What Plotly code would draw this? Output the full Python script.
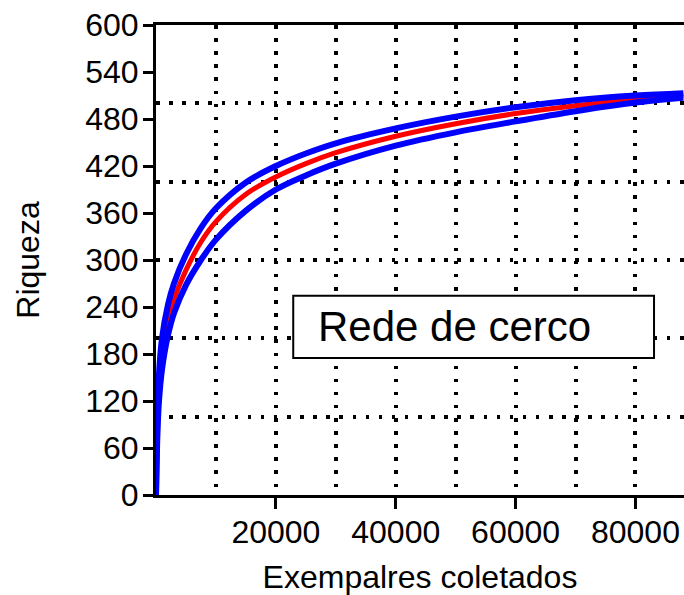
import plotly.graph_objects as go

# Data
exemplares = [0, 250, 500, 1000, 2000, 3000, 5000, 7500, 10000, 15000, 20000,
              25000, 30000, 40000, 50000, 60000, 70000, 80000, 88000]
riqueza_media = [0, 95, 140, 185, 225, 250, 287, 323, 349, 384, 406,
                 423, 437, 458, 474, 487, 497, 505, 510]
riqueza_sup = [0, 105, 155, 200, 243, 270, 307, 341, 366, 399, 420,
               436, 449, 468, 483, 495, 504, 510, 513]
riqueza_inf = [0, 80, 120, 160, 204, 232, 268, 300, 326, 363, 390,
               408, 423, 446, 463, 477, 490, 501, 507]

x_ticks = [20000, 40000, 60000, 80000]
x_tick_labels = ["20000", "40000", "60000", "80000"]
y_ticks = list(range(0, 601, 60))
x_grid = [10000, 20000, 30000, 40000, 50000, 60000, 70000, 80000]
y_grid = [100, 200, 300, 400, 500, 600]

FONT = "Liberation Sans, Arial, sans-serif"

fig = go.Figure()
fig.add_trace(go.Scatter(x=exemplares, y=riqueza_media, mode="lines",
                         line=dict(color="#ff0000", width=5, shape="spline"),
                         showlegend=False, hoverinfo="skip"))
fig.add_trace(go.Scatter(x=exemplares, y=riqueza_sup, mode="lines",
                         line=dict(color="#0000ff", width=6, shape="spline"),
                         showlegend=False, hoverinfo="skip"))
fig.add_trace(go.Scatter(x=exemplares, y=riqueza_inf, mode="lines",
                         line=dict(color="#0000ff", width=6, shape="spline"),
                         showlegend=False, hoverinfo="skip"))

fig.update_layout(
    width=684, height=595,
    margin=dict(l=156, r=0, t=25, b=100, pad=0),
    paper_bgcolor="white", plot_bgcolor="white",
    font=dict(family=FONT, color="black", size=32),
    xaxis=dict(
        range=[0, 88100], tickmode="array", tickvals=x_ticks, ticktext=x_tick_labels,
        ticks="outside", ticklen=11, tickwidth=3, tickcolor="black",
        showline=True, linewidth=3, linecolor="black", mirror=True,
        showgrid=False, zeroline=False, ticklabelstandoff=-4,
        tickfont=dict(size=32, family=FONT),
        title=dict(text="Exempalres coletados", font=dict(size=32, family=FONT), standoff=18),
        minor=dict(tickmode="array", tickvals=x_grid, showgrid=True,
                   gridcolor="black", gridwidth=3.5, griddash="3.5px,9.6px", ticks=""),
    ),
    yaxis=dict(
        range=[0, 600], tickmode="array", tickvals=y_ticks,
        ticks="outside", ticklen=10, tickwidth=3, tickcolor="black",
        showline=True, linewidth=3, linecolor="black",
        showgrid=False, zeroline=False, ticklabelstandoff=-2,
        tickfont=dict(size=32, family=FONT),
        title=dict(text="Riqueza", font=dict(size=32, family=FONT), standoff=37),
        minor=dict(tickmode="array", tickvals=y_grid, showgrid=True,
                   gridcolor="black", gridwidth=3.5, griddash="3.5px,9.6px", ticks=""),
    ),
    shapes=[dict(type="rect", xref="x", yref="y", x0=22900, x1=83100, y0=175, y1=254.5,
                 fillcolor="white", line=dict(color="black", width=2), layer="above")],
    annotations=[dict(text="Rede de cerco", xref="x", yref="y", x=26700, y=215,
                      xanchor="left", yanchor="middle", showarrow=False,
                      font=dict(size=42, family=FONT, color="black"))],
)

fig.write_html("out.html", config={"displayModeBar": False},
               post_script="document.body.style.margin='0';document.body.style.overflow='hidden';")
